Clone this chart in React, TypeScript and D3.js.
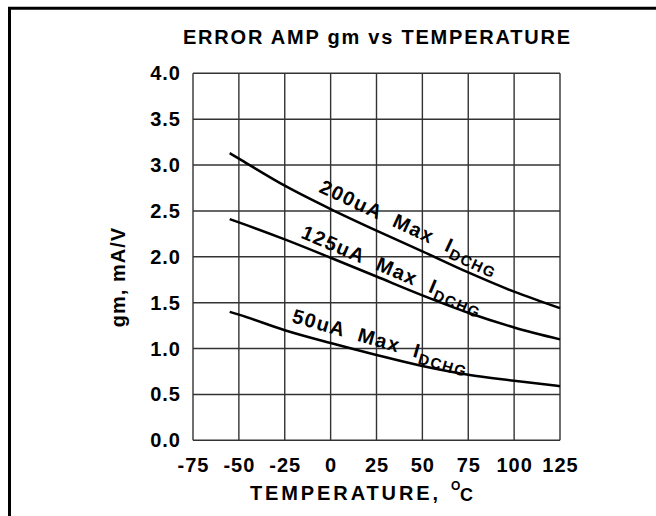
import * as d3 from "d3";

const temps = [-55, -50, -25, 0, 25, 50, 75, 100, 125];
const gm200 = [3.13, 3.07, 2.775, 2.52, 2.285, 2.06, 1.83, 1.62, 1.44];
const gm125 = [2.41, 2.375, 2.19, 1.99, 1.785, 1.58, 1.39, 1.23, 1.1];
const gm50 = [1.4, 1.37, 1.2, 1.06, 0.93, 0.81, 0.715, 0.65, 0.59];

const xTicks = [-75, -50, -25, 0, 25, 50, 75, 100, 125];
const yTicks = [0, 0.5, 1, 1.5, 2, 2.5, 3, 3.5, 4];

const curveLabels = [
  { main: "200uA Max I", sub: "DCHG", t: -6.9, v: 2.71, angle: 25 },
  { main: "125uA Max I", sub: "DCHG", t: -16.7, v: 2.21, angle: 23 },
  { main: "50uA Max I", sub: "DCHG", t: -21.6, v: 1.29, angle: 16 },
];

const W = 656;
const H = 516;
const FONT = "'Liberation Sans', Arial, Helvetica, sans-serif";

export default function App() {
  const x = d3.scaleLinear().domain([-75, 125]).range([193, 560]);
  const y = d3.scaleLinear().domain([0, 4]).range([440.3, 73.3]);

  const line = d3
    .line<number>()
    .x((_, i) => x(temps[i]))
    .y((d) => y(d))
    .curve(d3.curveMonotoneX);

  const series = [gm200, gm125, gm50];

  return (
    <svg
      width={W}
      height={H}
      style={{ position: "absolute", left: 0, top: 0, background: "#fff" }}
      fontFamily={FONT}
      fontWeight="bold"
    >
      <rect width={W} height={H} fill="#fff" />
      {/* outer frame (left + top only) */}
      <path d={`M9.5,${H} V8.2 H${W}`} fill="none" stroke="#000" strokeWidth={3} />

      {/* title */}
      <text x={183} y={44} fontSize={20} textLength={387} lengthAdjust="spacing">
        ERROR AMP gm vs TEMPERATURE
      </text>

      {/* grid */}
      {xTicks.map((t) => (
        <line key={"gx" + t} x1={x(t)} x2={x(t)} y1={y(0)} y2={y(4)} stroke="#333" strokeWidth={1.4} />
      ))}
      {yTicks.map((v) => (
        <line key={"gy" + v} x1={x(-75)} x2={x(125)} y1={y(v)} y2={y(v)} stroke="#333" strokeWidth={1.4} />
      ))}

      {/* tick labels */}
      {yTicks.map((v) => (
        <text key={"ty" + v} x={181} y={y(v) + 7} fontSize={20} letterSpacing={1} textAnchor="end">
          {v.toFixed(1)}
        </text>
      ))}
      {xTicks.map((t) => (
        <text key={"tx" + t} x={x(t) + 0.5} y={472} fontSize={20} letterSpacing={1} textAnchor="middle">
          {t}
        </text>
      ))}

      {/* axis titles */}
      <text x={250} y={500} fontSize={20} textLength={188} lengthAdjust="spacing">
        TEMPERATURE,
      </text>
      <text x={451} y={490} fontSize={12}>
        O
      </text>
      <text x={460} y={500.5} fontSize={18}>
        C
      </text>
      <text
        transform="translate(125,277) rotate(-90)"
        fontSize={20}
        letterSpacing={1}
        textAnchor="middle"
      >
        gm, mA/V
      </text>

      {/* curves */}
      {series.map((s, i) => (
        <path key={"s" + i} d={line(s) ?? ""} fill="none" stroke="#000" strokeWidth={2.5} />
      ))}

      {/* curve labels */}
      {curveLabels.map((l) => (
        <text
          key={l.main}
          transform={`translate(${x(l.t)},${y(l.v)}) rotate(${l.angle})`}
          fontSize={20}
          letterSpacing={1.5}
          style={{ whiteSpace: "pre" }}
        >
          {l.main.replace(/ /g, "  ")}
          <tspan fontSize={15} dy={5}>
            {l.sub}
          </tspan>
        </text>
      ))}
    </svg>
  );
}
